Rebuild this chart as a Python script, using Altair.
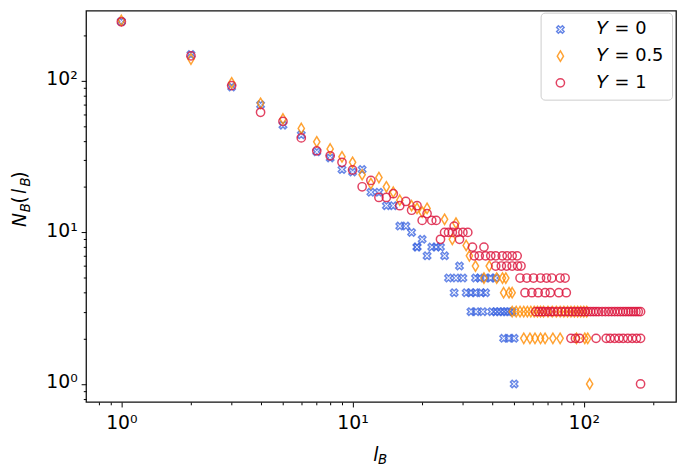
import altair as alt
import pandas as pd

# ---------------- data ----------------
series_names = ["Y = 0", "Y = 0.5", "Y = 1"]
series_colors = ["#4169E1", "#FF8C00", "#DC143C"]

# Y = 0 (blue crosses)
lb_y0 = [1, 2, 3, 4, 5, 6, 7, 8, 9, 10, 11, 12, 13, 14, 15, 16, 17, 18, 19, 20,
         21, 22, 23, 24, 25, 19, 29,
         26, 28, 30, 34, 35.5, 37.5, 39.5, 41.5,
         27.5, 31, 32.5, 34, 36, 37.6,
         32.5, 34.2, 36.6, 40, 41.5, 43, 44.5, 46, 47.5, 49,
         45, 47.5, 50,
         50]
nb_y0 = [246, 149, 91, 69.5, 51, 44, 34, 31, 26, 25, 26, 18.4, 18.4, 15, 15, 11, 11, 10, 8, 9,
         7, 8, 8, 8, 7, 8, 6,
         5, 5, 5, 5, 5, 5, 5, 5,
         4, 4, 4, 4, 4, 4,
         3, 3, 3, 3, 3, 3, 3, 3, 3, 3,
         2, 2, 2,
         1]

# Y = 0.5 (orange thin diamonds)
lb_y05 = [1, 2, 3, 4, 5, 6, 7, 8, 9, 10, 11, 12, 13, 14, 15, 16, 18, 19, 20, 21,
          25, 28, 27, 31, 32, 34, 39, 37, 42, 44.5, 46, 45, 47.5, 49,
          49, 51, 53, 55, 57, 59, 61, 63, 65, 67, 70, 73, 76, 79, 82, 85, 88, 91, 94, 97, 100, 103,
          55, 58.5, 61.5, 65, 68, 73.5, 79, 93, 101, 104,
          106]
nb_y05 = [250, 139, 97, 71, 56, 48.5, 39.6, 35.5, 31.5, 29, 24, 21, 23, 20, 18.4, 16.3, 15, 14.4, 13.6, 14.4,
          12.2, 11.5, 9, 8.2, 7, 6, 6, 5, 5, 5, 5, 4, 4, 4,
          3, 3, 3, 3, 3, 3, 3, 3, 3, 3, 3, 3, 3, 3, 3, 3, 3, 3, 3, 3, 3, 3,
          2, 2, 2, 2, 2, 2, 2, 2, 2, 2,
          1]

# Y = 1 (red circles)
lb_y1 = [1, 2, 3, 4, 5, 6, 7, 8, 9, 10, 11, 12, 13, 14, 15, 16, 17, 18, 19, 20,
         21, 22, 23, 24, 25, 26, 27, 27.5, 28.5, 29, 30, 31.5, 33, 37,
         33.6, 35.3, 37.6, 39.6, 41.6, 44.4, 46.6, 49, 51.5,
         41.6, 44, 46.4, 49, 51.7, 53.5,
         53, 56.7, 60.6, 65, 69, 72.7, 79, 83,
         55.7, 59.6, 63.5, 68, 71.6, 78, 84,
         62, 64, 66, 68, 70, 72, 74, 77, 80, 83, 86, 89, 92, 95, 98, 101, 104, 107, 110,
         113, 116, 120, 124, 128, 132, 136, 140, 144, 148, 152, 156, 160, 164, 168, 172, 176,
         88, 92, 96, 113, 125, 130, 136, 142, 148, 155, 162, 169, 176,
         176]
nb_y1 = [245, 146, 93, 62, 54, 42, 34.5, 32, 29, 25.8, 20, 22, 17, 17, 18, 15, 16, 14, 15, 12,
         13.3, 12, 12, 9, 10, 10, 10, 11, 10, 9, 10, 10, 8, 8,
         7, 7, 7, 7, 7, 7, 7, 7, 7,
         6, 6, 6, 6, 6, 6,
         5, 5, 5, 5, 5, 5, 5, 5,
         4, 4, 4, 4, 4, 4, 4,
         3, 3, 3, 3, 3, 3, 3, 3, 3, 3, 3, 3, 3, 3, 3, 3, 3, 3, 3,
         3, 3, 3, 3, 3, 3, 3, 3, 3, 3, 3, 3, 3, 3, 3, 3, 3,
         2, 2, 2, 2, 2, 2, 2, 2, 2, 2, 2, 2, 2,
         1]

tick_values = [0.8, 0.9, 1, 2, 3, 4, 5, 6, 7, 8, 9, 10,
               20, 30, 40, 50, 60, 70, 80, 90, 100, 200]

# ---------------- table ----------------
rows = []
for name, xs, ys in zip(series_names, [lb_y0, lb_y05, lb_y1], [nb_y0, nb_y05, nb_y1]):
    for xv, yv in zip(xs, ys):
        rows.append({"series": name, "lB": xv, "NB": yv})
df = pd.DataFrame(rows)

x_shape = "M-1,-0.55L-0.55,-1L0,-0.45L0.55,-1L1,-0.55L0.45,0L1,0.55L0.55,1L0,0.45L-0.55,1L-1,0.55L-0.45,0Z"
d_shape = "M0,-1L0.6,0L0,1L-0.6,0Z"

FONT = "DejaVu Sans"
label_expr = ("datum.value == 1 ? '10\u2070' : datum.value == 10 ? '10\u00b9' : "
              "datum.value == 100 ? '10\u00b2' : ''")
major_test = "indexof([1, 10, 100], datum.value) >= 0"
legend_label_expr = "replace(datum.label, 'Y', '\U0001D44C')"


def make_axis(pad, **kw):
    return alt.Axis(
        values=tick_values,
        labelExpr=label_expr,
        tickSize={"condition": {"test": major_test, "value": 5}, "value": 2.8},
        tickColor="#000000",
        tickWidth=1,
        grid=False,
        domain=False,
        title=None,
        labelFont=FONT,
        labelFontSize=19,
        labelColor="#000000",
        labelOverlap=False,
        labelFlush=False,
        labelBound=False,
        labelPadding=pad,
        **kw,
    )


def legend():
    return alt.Legend(title=None, labelExpr=legend_label_expr)


points = alt.Chart(df).mark_point(filled=False, strokeWidth=1.5, opacity=0.8).encode(
    x=alt.X("lB:Q", scale=alt.Scale(type="log", domain=[0.7037, 250.5], nice=False),
            axis=make_axis(7)),
    y=alt.Y("NB:Q", scale=alt.Scale(type="log", domain=[0.76, 290], nice=False),
            axis=make_axis(4, labelOffset=-2)),
    color=alt.Color("series:N", scale=alt.Scale(domain=series_names, range=series_colors),
                    legend=legend()),
    shape=alt.Shape("series:N", scale=alt.Scale(domain=series_names, range=[x_shape, d_shape, "circle"]),
                    legend=legend()),
    size=alt.Size("series:N", scale=alt.Scale(type="ordinal", domain=series_names, range=[56, 110, 70]),
                  legend=legend()),
)


def piece(txt, x, y, size, italic=True, angle=0):
    kw = dict(font=FONT, fontSize=size, align="left", baseline="alphabetic", color="#000000")
    if italic:
        kw["fontStyle"] = "italic"
    if angle:
        kw["angle"] = angle
    return alt.Chart(pd.DataFrame({"t": [txt]})).mark_text(**kw).encode(
        text="t:N", x=alt.value(x), y=alt.value(y))


# x title  l_B
xt = [piece("l", 290.7, 456, 19), piece("B", 295.5, 458.5, 13.5)]
# y title  N_B(l_B)  (rotated)
yt = [piece("N", -61, 219, 19, angle=270),
      piece("B", -57, 204, 13.5, angle=270),
      piece("(", -61, 195, 19, italic=False, angle=270),
      piece("l", -61, 185.5, 19, angle=270),
      piece("B", -57, 178, 13.5, angle=270),
      piece(")", -61, 170, 19, italic=False, angle=270)]

chart = alt.layer(points, *xt, *yt).properties(
    width=597, height=396,
    autosize=alt.AutoSizeParams(type="none"),
    padding={"left": 79, "top": 0, "right": 1, "bottom": 63},
).configure_view(
    stroke="#111111", strokeWidth=1.3
).configure_legend(
    orient="none", legendX=460, legendY=2,
    padding=8, fillColor="#ffffff", strokeColor="#cccccc", cornerRadius=4,
    labelFont=FONT, labelFontSize=18, labelColor="#000000",
    symbolStrokeWidth=1.5, symbolOpacity=0.8, rowPadding=9,
    symbolOffset=3, labelOffset=28,
)

chart.save("out.html", embed_options={"renderer": "svg", "actions": False})
